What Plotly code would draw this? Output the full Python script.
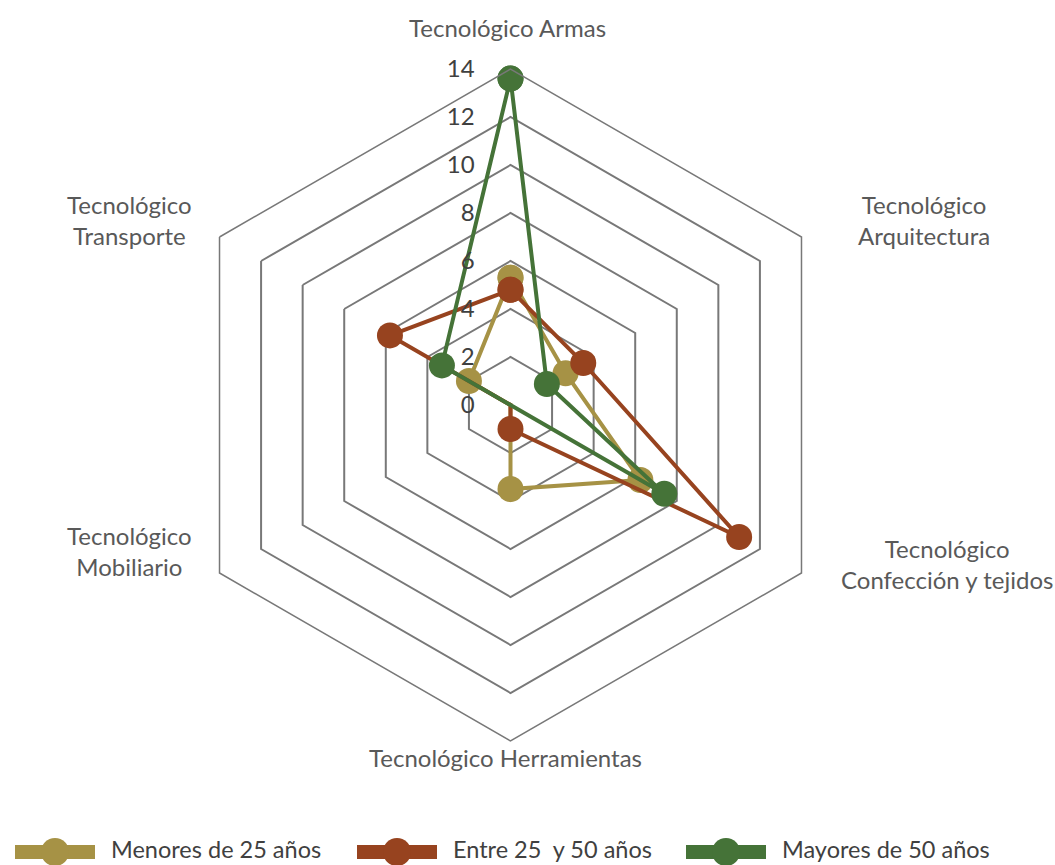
import plotly.graph_objects as go

# Axes of the radar, clockwise from the top
categories = [
    "Tecnológico Armas",
    "Tecnológico Arquitectura",
    "Tecnológico Confección y tejidos",
    "Tecnológico Herramientas",
    "Tecnológico Mobiliario",
    "Tecnológico Transporte",
]
# Category captions as printed around the hexagon
category_labels = [
    "Tecnológico Armas",
    "Tecnológico<br>Arquitectura",
    "Tecnológico<br>Confección y tejidos",
    "Tecnológico Herramientas",
    "Tecnológico<br>Mobiliario",
    "Tecnológico<br>Transporte",
]

menores_25 = [5.3, 2.65, 6.25, 3.5, 0, 2.0]
entre_25_50 = [4.8, 3.5, 11.0, 1.0, 0, 5.8]
mayores_50 = [13.6, 1.75, 7.4, 0, 0, 3.3]

series_names = ["Menores de 25 años", "Entre 25\u00a0 y 50 años", "Mayores de 50 años"]
series_values = [menores_25, entre_25_50, mayores_50]
series_colors = ["#A69245", "#97431F", "#457338"]

radial_ticks = [0, 2, 4, 6, 8, 10, 12, 14]

W, H = 1055, 865
FONT = "Lato, 'Open Sans', sans-serif"
FS = 24
GRID = "#787878"

fig = go.Figure()
for name, vals, col in zip(series_names, series_values, series_colors):
    fig.add_trace(go.Scatterpolar(
        r=vals + vals[:1],
        theta=categories + categories[:1],
        mode="lines+markers",
        name=name,
        line=dict(color=col, width=4),
        marker=dict(color=col, size=26),
        showlegend=False,
    ))

# Centre of the radar and the pixel radius of the outer hexagon
cx, cy, R = 510.5, 405, 336
fig.update_layout(
    width=W, height=H,
    margin=dict(l=0, r=0, t=0, b=0),
    paper_bgcolor="white",
    plot_bgcolor="white",
    font=dict(family=FONT, size=FS, color="#595959"),
    polar=dict(
        domain=dict(x=[(cx - R) / W, (cx + R) / W], y=[1 - (cy + R) / H, 1 - (cy - R) / H]),
        bgcolor="white",
        gridshape="linear",
        radialaxis=dict(
            range=[0, 14],
            tickvals=radial_ticks,
            angle=90,
            tickangle=90,
            side="counterclockwise",
            showline=False,
            gridcolor=GRID,
            gridwidth=1.5,
            ticks="outside",
            ticklen=27,
            tickcolor="rgba(0,0,0,0)",
            tickfont=dict(family=FONT, size=FS, color="#404040"),
        ),
        angularaxis=dict(
            rotation=90,
            direction="clockwise",
            showgrid=False,
            showline=True,
            linecolor=GRID,
            linewidth=1.5,
            ticks="",
            showticklabels=False,
        ),
    ),
)

annotations, shapes = [], []

# Category captions around the outer hexagon
label_pos = [(507, 27), (924, 220), (947, 564), (505, 757), (129, 551), (129, 220)]
for text, (lx, ly) in zip(category_labels, label_pos):
    annotations.append(dict(
        xref="paper", yref="paper", x=lx / W, y=1 - ly / H,
        xanchor="center", yanchor="middle", align="center", showarrow=False,
        text=text, font=dict(family=FONT, size=FS, color="#595959"),
    ))

# Legend row along the bottom: a thick bar with a dot, then the series name
legend_x = [15, 357, 686]
legend_y = 852
bar_w, bar_h, dot_r = 80, 14, 14
for x0, name, col in zip(legend_x, series_names, series_colors):
    shapes.append(dict(
        type="rect", xref="paper", yref="paper",
        x0=x0 / W, x1=(x0 + bar_w) / W,
        y0=1 - (legend_y + bar_h / 2) / H, y1=1 - (legend_y - bar_h / 2) / H,
        fillcolor=col, line=dict(width=0),
    ))
    xc = x0 + bar_w / 2
    shapes.append(dict(
        type="circle", xref="paper", yref="paper",
        x0=(xc - dot_r) / W, x1=(xc + dot_r) / W,
        y0=1 - (legend_y + dot_r) / H, y1=1 - (legend_y - dot_r) / H,
        fillcolor=col, line=dict(width=0),
    ))
    annotations.append(dict(
        xref="paper", yref="paper", x=(x0 + bar_w + 14) / W, y=1 - (legend_y - 3) / H,
        xanchor="left", yanchor="middle", showarrow=False, text=name,
        font=dict(family=FONT, size=23.5, color="#404040"),
    ))
fig.update_layout(shapes=shapes, annotations=annotations)

fig.write_html("out.html")
